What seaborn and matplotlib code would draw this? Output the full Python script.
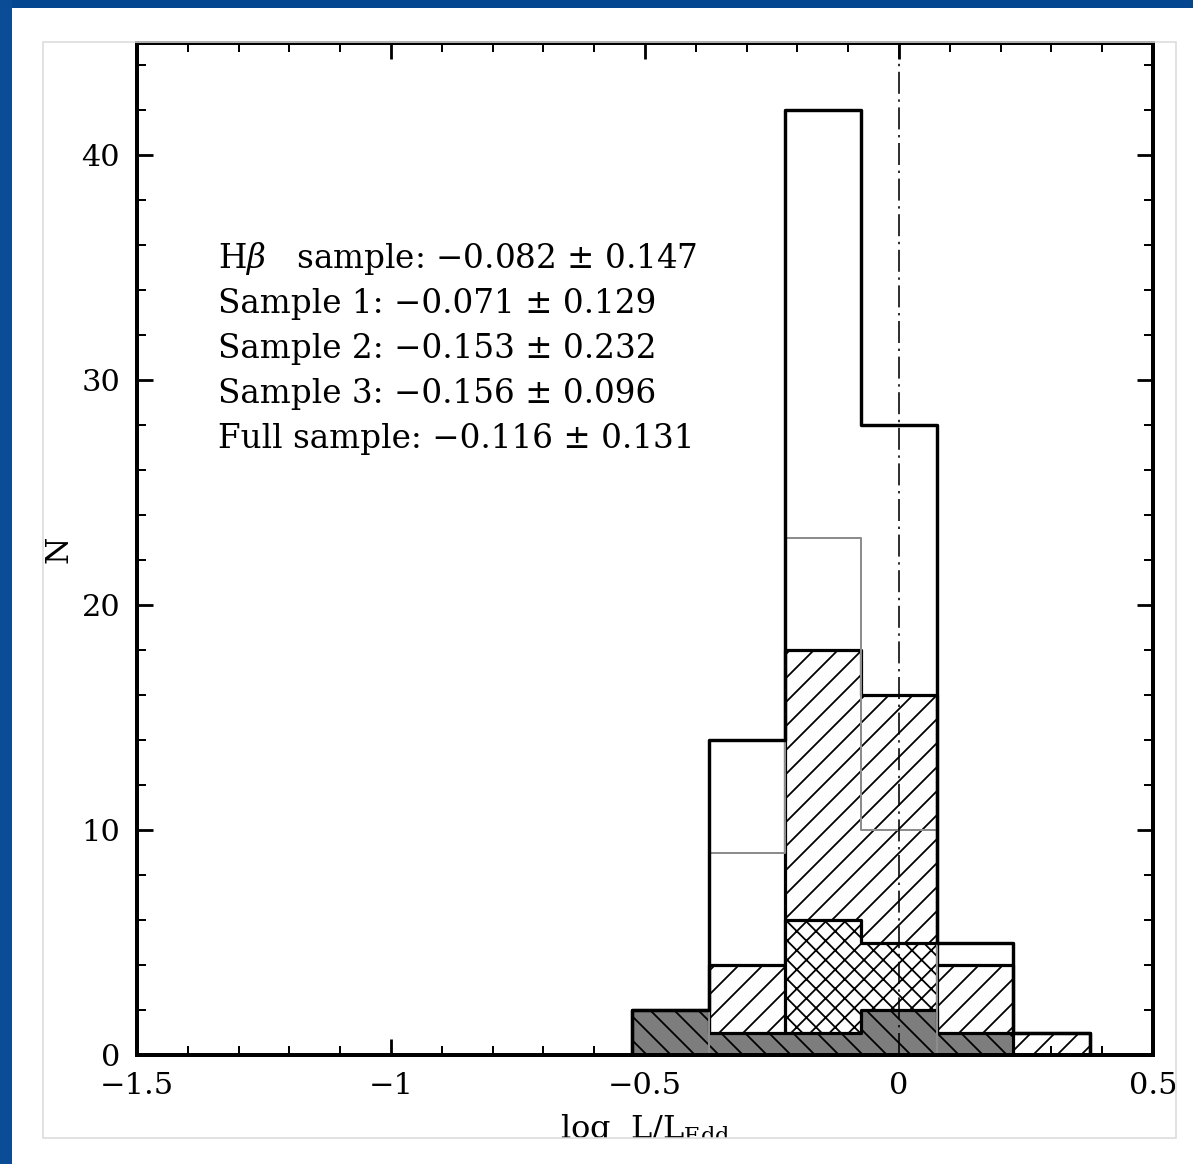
import matplotlib
matplotlib.use('Agg')
import matplotlib.pyplot as plt
import seaborn as sns
from matplotlib.patches import Rectangle
from matplotlib.ticker import MultipleLocator

# histogram bins (log L/L_Edd) and counts
bin_edges = [-0.525, -0.375, -0.225, -0.075, 0.075, 0.225, 0.375]
bin_centers = [-0.45, -0.30, -0.15, 0.0, 0.15, 0.30]
n_full = [2, 14, 42, 28, 5, 1]
n_hbeta = [0, 9, 23, 10, 0, 0]
n_sample1 = [0, 4, 18, 16, 4, 1]
n_sample2 = [0, 0, 6, 5, 0, 0]
n_sample3 = [2, 1, 1, 2, 1, 0]

stats_lines = [
    'H$\\beta$   sample: \u22120.082 \u00b1 0.147',
    'Sample 1: \u22120.071 \u00b1 0.129',
    'Sample 2: \u22120.153 \u00b1 0.232',
    'Sample 3: \u22120.156 \u00b1 0.096',
    'Full sample: \u22120.116 \u00b1 0.131',
]
xtick_vals = [-1.5, -1, -0.5, 0, 0.5]
xtick_labels = ['\u22121.5', '\u22121', '\u22120.5', '0', '0.5']
ytick_vals = [0, 10, 20, 30, 40]

DPI = 288
W, H = 1193, 1164

sns.set_style('ticks')
plt.rcParams['font.family'] = ['DejaVu Serif']
plt.rcParams['mathtext.fontset'] = 'dejavuserif'
plt.rcParams['text.color'] = 'black'
plt.rcParams['axes.labelcolor'] = 'black'
plt.rcParams['hatch.linewidth'] = 0.45
plt.rcParams['lines.scale_dashes'] = False

fig = plt.figure(figsize=(W / DPI, H / DPI), dpi=DPI)
fig.patch.set_facecolor('white')
ax = fig.add_axes([137 / W, 1 - 1055 / H, 1016 / W, 1012 / H])


def step_hist(counts, **kws):
    sns.histplot(x=bin_centers, weights=counts, bins=bin_edges, element='step',
                 fill=True, ax=ax, **kws)


step_hist(n_sample1, color='black', facecolor='none', edgecolor='black',
          hatch='////', linewidth=0.8, zorder=2)
step_hist(n_sample2, color='black', facecolor='white', edgecolor='black',
          hatch='xxxxx', linewidth=0.8, zorder=3)
step_hist(n_sample3, color='black', facecolor='#7d7d7d', edgecolor='black',
          hatch='\\\\\\\\', linewidth=0.8, zorder=4)
step_hist(n_hbeta, color='grey', facecolor='none', edgecolor='#8c8c8c',
          linewidth=0.5, zorder=5)
step_hist(n_full, color='black', facecolor='none', edgecolor='black',
          linewidth=0.85, zorder=6)

ax.axvline(0, color='black', lw=0.4, linestyle=(0, (5.5, 1.4, 0.6, 1.4)), zorder=7)

for i, line in enumerate(stats_lines):
    ax.text(-1.34, 35.4 - 2 * i, line, fontsize=8.15, va='center', ha='left')

ax.set_xlim(-1.5, 0.5)
ax.set_ylim(0, 45)
ax.set_xticks(xtick_vals)
ax.set_xticklabels(xtick_labels)
ax.set_yticks(ytick_vals)
ax.xaxis.set_minor_locator(MultipleLocator(0.1))
ax.yaxis.set_minor_locator(MultipleLocator(2))
ax.tick_params(which='both', direction='in', top=True, right=True,
               labelsize=7.6, colors='black')
ax.tick_params(which='major', length=4, width=0.7, pad=4.2)
ax.tick_params(which='minor', length=2.2, width=0.5)
for s in ax.spines.values():
    s.set_linewidth(1.0)
    s.set_color('black')
    s.set_zorder(8)

ax.set_xlabel('log  L/L$_{\\rm Edd}$', fontsize=8.0)
ax.set_ylabel('N', fontsize=7.8)
ax.xaxis.set_label_coords(0.5, -0.056)
ax.yaxis.set_label_coords(-0.062, 0.5)

# slide frame: blue bands, light grey panel outline, white strip at the bottom
fig.patches.append(Rectangle((0, 0), 1, 1 - 1138 / H, transform=fig.transFigure,
                             facecolor='white', edgecolor='none', zorder=10))
fig.patches.append(Rectangle((43 / W, 1 - 1138 / H), (1176 - 43) / W, (1138 - 42) / H,
                             transform=fig.transFigure, facecolor='none',
                             edgecolor='#dcdcdc', lw=0.4, zorder=11))
fig.patches.append(Rectangle((0, 1 - 8 / H), 1, 8 / H, transform=fig.transFigure,
                             facecolor='#04468f', edgecolor='none', zorder=12))
fig.patches.append(Rectangle((0, 0), 12 / W, 1, transform=fig.transFigure,
                             facecolor='#0a4d96', edgecolor='none', zorder=12))

fig.savefig('out.png', dpi=DPI)
